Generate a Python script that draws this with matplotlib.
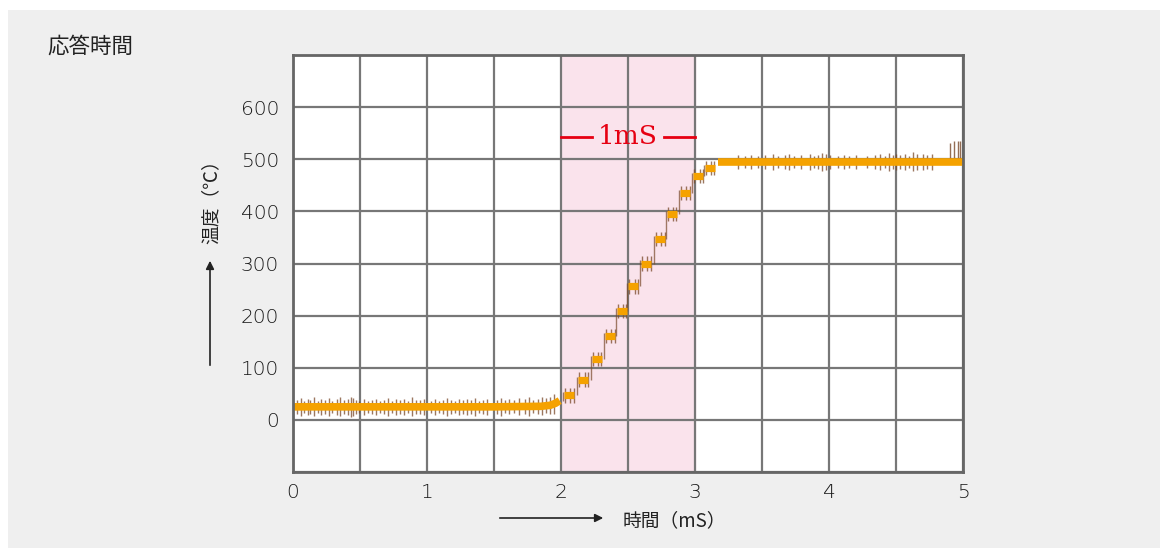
import numpy as np
import matplotlib.pyplot as plt
from matplotlib.patches import Rectangle

plt.rcParams['font.family'] = ['Noto Sans CJK JP', 'DejaVu Sans']

# ---- data ----
x_ticks = [0, 1, 2, 3, 4, 5]
y_ticks = [0, 100, 200, 300, 400, 500, 600]

# smoothed baseline before the step
base_t = [0.0, 0.5, 1.0, 1.5, 1.85, 1.92, 1.96, 1.99]
base_v = [25, 25, 25, 25, 26, 28, 32, 37]

# sampled steps during the rise
step_t = [2.06, 2.167, 2.266, 2.366, 2.453, 2.54, 2.634, 2.739, 2.826, 2.925, 3.025, 3.11]
step_v = [47, 77, 117, 161, 209, 256, 300, 347, 395, 435, 468, 483]

# settled value
flat_start, flat_end, flat_v = 3.17, 5.0, 495

# raw sample ticks around the baseline (time, half-spread)
noise0_t = [0.03, 0.06, 0.08, 0.11, 0.13, 0.16, 0.19, 0.21, 0.24, 0.27, 0.29, 0.33,
            0.35, 0.38, 0.41, 0.43, 0.45, 0.47, 0.49, 0.53, 0.56, 0.59, 0.62, 0.65,
            0.68, 0.71, 0.74, 0.77, 0.80, 0.83, 0.86, 0.89, 0.92, 0.95, 0.98, 1.03,
            1.06, 1.09, 1.12, 1.15, 1.18, 1.21, 1.24, 1.27, 1.30, 1.33, 1.36, 1.39,
            1.42, 1.45, 1.52, 1.55, 1.58, 1.61, 1.65, 1.69, 1.73, 1.76, 1.79, 1.83,
            1.86, 1.89, 1.92, 1.95]
noise0_d = [14, 17, 12, 16, 13, 18, 11, 15, 14, 17, 12, 16,
            18, 13, 15, 19, 17, 14, 12, 15, 11, 13, 16, 12,
            14, 17, 12, 15, 13, 16, 12, 18, 14, 13, 15, 12,
            16, 11, 14, 17, 13, 12, 16, 14, 15, 13, 17, 12,
            14, 16, 13, 17, 12, 15, 13, 16, 14, 18, 13, 15,
            17, 14, 16, 19]

# raw sample ticks around the settled value
noise1_t = [3.32, 3.37, 3.42, 3.47, 3.52, 3.58, 3.62, 3.67, 3.70, 3.74, 3.79, 3.86,
            3.89, 3.92, 3.95, 3.98, 4.01, 4.07, 4.11, 4.15, 4.20, 4.28, 4.34, 4.38,
            4.42, 4.45, 4.48, 4.50, 4.53, 4.57, 4.60, 4.63, 4.66, 4.70, 4.73, 4.77]
noise1_d = [13, 12, 14, 12, 13, 16, 12, 14, 15, 12, 13, 15,
            12, 14, 17, 16, 13, 12, 14, 12, 13, 12, 14, 15,
            12, 17, 14, 15, 13, 16, 12, 18, 15, 16, 14, 15]

# tall ticks at the end of the record
tail_t = [4.90, 4.93, 4.96, 4.98]
tail_lo = [495, 495, 495, 495]
tail_hi = [532, 535, 535, 535]

span_lo, span_hi = 2.0, 3.0

orange = '#f5a200'
tick_col = '#7a4a2a'
grid_col = '#777777'

fig = plt.figure(figsize=(11.69, 5.55), dpi=100)
fig.patch.set_facecolor('white')
fig.patches.append(Rectangle((8 / 1169, 7 / 555), 1152 / 1169, 538 / 555,
                             transform=fig.transFigure, facecolor='#efefef',
                             edgecolor='none', zorder=-10))

ax = fig.add_axes([293 / 1169, 1 - 472 / 555, 670 / 1169, 417 / 555])
ax.set_facecolor('white')
ax.set_xlim(0, 5)
ax.set_ylim(-100, 700)

# shaded 1 ms window
ax.axvspan(span_lo, span_hi, color='#fae3ec', zorder=0)

ax.set_xticks(np.arange(0, 5.01, 0.5))
ax.set_yticks(np.arange(-100, 701, 100))
ax.grid(True, color=grid_col, linewidth=1.6, zorder=1)
ax.set_axisbelow(True)
ax.set_xticklabels(['0', '', '1', '', '2', '', '3', '', '4', '', '5'])
ax.set_yticklabels(['', '0', '100', '200', '300', '400', '500', '600', ''])
ax.tick_params(length=0, labelsize=14.5, labelcolor='#1a1a1a')
ax.tick_params(axis='y', pad=10)
ax.tick_params(axis='x', pad=8)
for lab in ax.get_xticklabels() + ax.get_yticklabels():
    lab.set_family('DejaVu Sans')
    lab.set_fontweight('light')
for s in ax.spines.values():
    s.set_color('#666666')
    s.set_linewidth(2)
    s.set_zorder(5)

# raw sample ticks
b0 = np.interp(noise0_t, base_t, base_v)
ax.vlines(noise0_t, b0 - np.array(noise0_d), b0 + np.array(noise0_d),
          color=tick_col, linewidth=1.0, alpha=0.75, zorder=2)
ax.vlines(noise1_t, flat_v - np.array(noise1_d), flat_v + np.array(noise1_d),
          color=tick_col, linewidth=1.0, alpha=0.75, zorder=2)
ax.vlines(tail_t, tail_lo, tail_hi, color=tick_col, linewidth=1.0, alpha=0.8, zorder=2)

# ticks around each step, plus transition strokes
prev_v = base_v[-1]
for t, v in zip(step_t, step_v):
    ax.vlines([t - 0.03, t + 0.01, t + 0.035], v - 14, v + 14,
              color=tick_col, linewidth=1.0, alpha=0.75, zorder=2)
    ax.vlines(t - 0.045, prev_v, v + 6, color=tick_col, linewidth=1.0,
              alpha=0.7, zorder=2)
    prev_v = v

# orange trace
ax.plot(base_t, base_v, color=orange, linewidth=5.5, solid_capstyle='butt', zorder=3)
ax.hlines(step_v, np.array(step_t) - 0.038, np.array(step_t) + 0.038,
          color=orange, linewidth=5.2, zorder=3)
ax.hlines(flat_v, flat_start, flat_end, color=orange, linewidth=5.5, zorder=3)

# 1 mS annotation
ax.plot([2.0, 2.23], [543, 543], color='#e60012', linewidth=2, zorder=4)
ax.plot([2.77, 3.0], [543, 543], color='#e60012', linewidth=2, zorder=4)
ax.text(2.5, 543, '1mS', color='#e60012', fontsize=19, family='DejaVu Serif',
        ha='center', va='center', zorder=4)

# titles and axis labels with arrows
fig.text(47 / 1169, 1 - 47 / 555, '応答時間', fontsize=15.5, color='#222222',
         ha='left', va='center')
fig.text(623 / 1169, 1 - 521 / 555, '時間（mS）', fontsize=13.5, color='#222222',
         ha='left', va='center')
fig.text(211 / 1169, 1 - 197 / 555, '温度（℃）', fontsize=13.5, color='#222222',
         ha='center', va='center', rotation=90)
fig.add_artist(plt.Annotation('', xy=(606 / 1169, 1 - 518 / 555),
                              xytext=(497 / 1169, 1 - 518 / 555),
                              xycoords='figure fraction',
                              arrowprops=dict(arrowstyle='-|>', color='#222222',
                                              lw=1.2, mutation_scale=12)))
fig.add_artist(plt.Annotation('', xy=(210 / 1169, 1 - 258 / 555),
                              xytext=(210 / 1169, 1 - 368 / 555),
                              xycoords='figure fraction',
                              arrowprops=dict(arrowstyle='-|>', color='#222222',
                                              lw=1.2, mutation_scale=12)))

fig.savefig('out.png', dpi=100, facecolor=fig.get_facecolor())
